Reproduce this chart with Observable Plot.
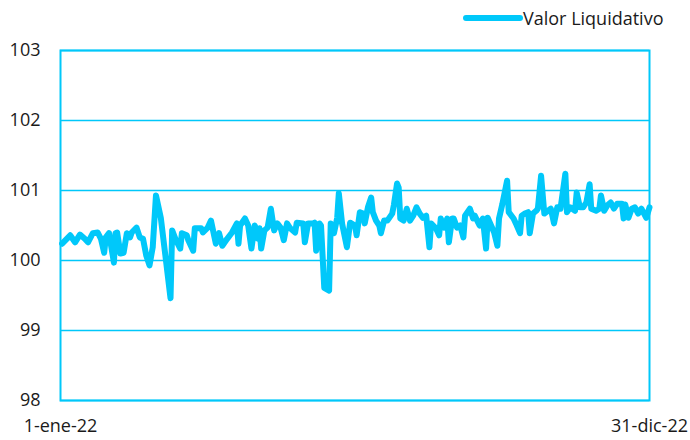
<!DOCTYPE html>
<html>
<head>
<meta charset="utf-8">
<script src="https://cdn.jsdelivr.net/npm/d3@7"></script>
<script src="https://cdn.jsdelivr.net/npm/@observablehq/plot@0.6"></script>
<style>
  html, body { margin: 0; padding: 0; background: #fff; }
  #wrap { width: 690px; height: 440px; font-family: 'Open Sans', sans-serif; color: #1a1a1a; }
  #legend { height: 36px; position: relative; }
  #legend svg { position: absolute; left: 463px; top: 13px; }
  #legend span { position: absolute; left: 523px; top: 6px; font-size: 18px; line-height: 24px; white-space: nowrap; }
</style>
</head>
<body>
<div id="wrap">
  <div id="legend"></div>
  <div id="chart"></div>
</div>
<script>
// Day offsets from 1-Jan-2022 and values
const days = [1,6,9,12,15,17,20,23,25,27,28,30,33,34,35,37,39,41,43,44,47,49,51,53,55,57,59,62,68,69,71,74,75,78,79,82,83,87,88,91,93,96,98,100,103,106,109,110,111,114,116,118,120,121,122,123,124,126,128,130,132,134,136,138,140,142,145,146,150,151,153,156,157,158,160,161,163,166,167,169,171,172,174,177,179,182,183,185,187,188,190,192,193,195,197,198,200,202,205,206,208,209,210,212,214,216,218,220,222,224,226,228,229,232,234,235,237,239,240,242,243,245,247,249,250,253,255,256,259,261,263,264,268,270,271,273,276,277,280,282,284,285,287,289,290,292,294,295,297,299,303,305,307,309,312,313,315,318,319,321,323,325,327,328,331,333,334,336,338,340,342,344,347,348,349,351,353,355,357,359,362,364];
const values = [100.24,100.36,100.26,100.37,100.31,100.26,100.39,100.40,100.31,100.11,100.33,100.39,99.97,100.39,100.40,100.10,100.11,100.39,100.33,100.40,100.47,100.33,100.31,100.07,99.93,100.19,100.93,100.61,99.46,100.43,100.31,100.17,100.39,100.36,100.29,100.14,100.46,100.46,100.40,100.47,100.57,100.24,100.39,100.21,100.31,100.40,100.53,100.24,100.50,100.60,100.50,100.17,100.50,100.43,100.31,100.46,100.17,100.43,100.47,100.74,100.43,100.53,100.47,100.29,100.53,100.46,100.40,100.54,100.53,100.26,100.53,100.53,100.54,100.14,100.53,100.50,99.61,99.57,100.53,100.39,100.61,100.96,100.53,100.19,100.54,100.50,100.36,100.69,100.67,100.53,100.76,100.90,100.69,100.57,100.50,100.39,100.57,100.57,100.67,100.79,101.10,101.04,100.60,100.57,100.74,100.57,100.64,100.76,100.67,100.61,100.64,100.19,100.53,100.46,100.36,100.60,100.47,100.60,100.26,100.60,100.60,100.47,100.50,100.33,100.64,100.74,100.60,100.64,100.50,100.60,100.17,100.61,100.40,100.21,100.60,100.80,101.14,100.69,100.60,100.50,100.39,100.64,100.67,100.69,100.39,100.67,100.71,100.74,101.21,100.67,100.74,100.53,100.76,100.74,101.24,100.69,100.76,100.71,100.97,100.76,100.76,100.83,101.09,100.74,100.71,100.74,100.93,100.71,100.79,100.83,100.74,100.81,100.81,100.60,100.80,100.61,100.74,100.76,100.67,100.74,100.61,100.76];
const seriesName = "Valor Liquidativo";
const yTicks = [98, 99, 100, 101, 102, 103];
const xTickDates = ["2022-01-01", "2022-12-31"];
const xTickLabels = ["1-ene-22", "31-dic-22"];

const C = "#00C8FA";
const start = new Date(Date.UTC(2022, 0, 1));
const end = new Date(Date.UTC(2022, 11, 31));
const data = days.map((d, i) => ({ date: new Date(Date.UTC(2022, 0, 1 + d)), value: values[i] }));
const xTicks = xTickDates.map(s => new Date(s + "T00:00:00Z"));
const labelFor = d => xTickLabels[xTicks.findIndex(t => t.getTime() === d.getTime())];

// Legend
const leg = document.getElementById("legend");
leg.innerHTML = `<svg width="60" height="10"><line x1="3" y1="5" x2="57" y2="5" stroke="${C}" stroke-width="6" stroke-linecap="round"/></svg><span>${seriesName}</span>`;

const chart = Plot.plot({
  width: 690,
  height: 404,
  marginLeft: 60,
  marginRight: 41,
  marginTop: 14,
  marginBottom: 40,
  style: { fontFamily: "'Open Sans', sans-serif", color: "#1a1a1a", background: "#fff", overflow: "visible" },
  x: { type: "utc", domain: [start, end], label: null },
  y: { domain: [98, 103], label: null },
  marks: [
    Plot.ruleY(yTicks, { stroke: C, strokeWidth: 1.5 }),
    Plot.line(data, { x: "date", y: "value", stroke: C, strokeWidth: 6, strokeLinejoin: "round", strokeLinecap: "round" }),
    Plot.frame({ stroke: C, strokeWidth: 2 }),
    Plot.axisY({ ticks: yTicks, tickSize: 0, tickPadding: 20, fontSize: 18, tickFormat: d => String(d), label: null }),
    Plot.axisX({ ticks: xTicks, tickSize: 0, tickPadding: 19, fontSize: 18, tickFormat: labelFor, label: null })
  ]
});
document.getElementById("chart").appendChild(chart);
</script>
</body>
</html>
